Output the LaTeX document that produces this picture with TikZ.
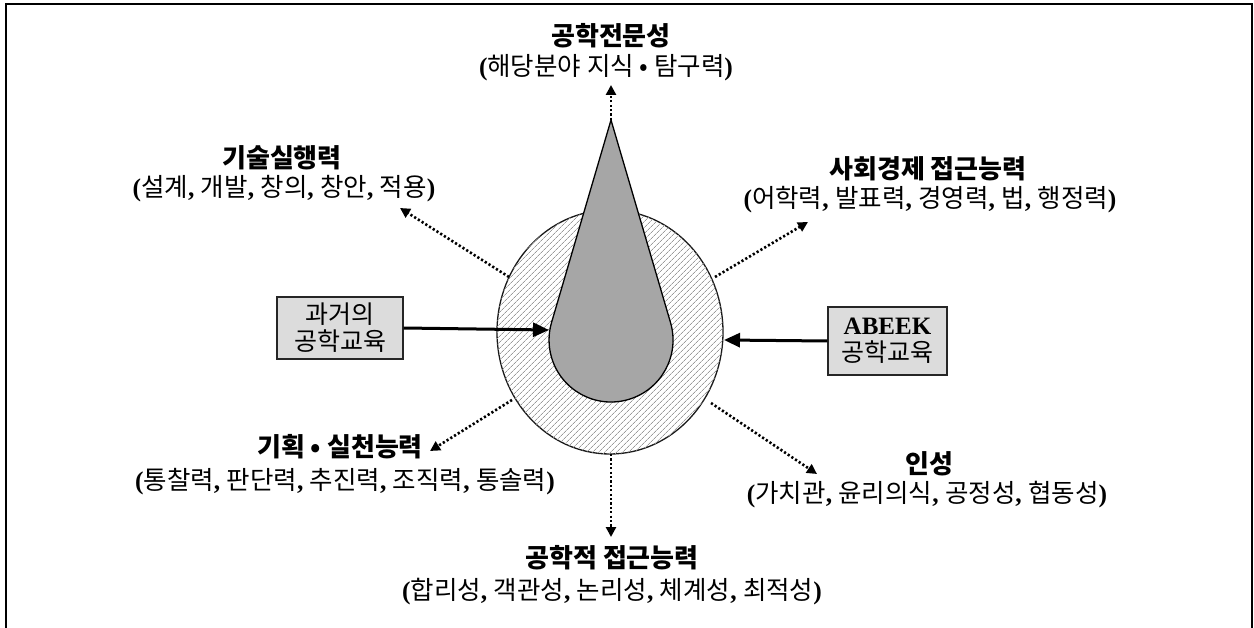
\documentclass[tikz,border=0pt]{standalone}
\usepackage{fontspec}
\setmainfont{Liberation Serif}
\newfontfamily\kr{Noto Sans CJK KR}
\usetikzlibrary{arrows.meta,patterns.meta,shapes.geometric}
\definecolor{dropgray}{HTML}{A6A6A6}
\definecolor{boxgray}{HTML}{DCDCDC}
\definecolor{hatchgray}{HTML}{9A9A9A}
\newcommand\lp{{\rmfamily\bfseries(}}
\newcommand\rp{{\rmfamily\bfseries)}}
\newcommand\cm{{\rmfamily\bfseries,\ }}
\tikzset{
  ttl/.style={font=\kr\bfseries\fontsize{26}{30}\selectfont, inner sep=0pt},
  subt/.style={font=\kr\fontsize{25.5}{30}\selectfont, inner sep=0pt},
  gbox/.style={draw=black!85, line width=1.3pt, fill=boxgray, inner sep=0pt,
    align=center, font=\kr\fontsize{25}{27}\selectfont},
  solidarrow/.style={line width=3pt, -{Triangle[length=16pt,width=14pt]}},
  dotarrow/.style={line width=2.6pt, dash pattern=on 2.2pt off 2.2pt,
    -{Triangle[length=10pt,width=10pt]}},
}
\begin{document}
\begin{tikzpicture}[x=1pt,y=-1pt]
\useasboundingbox (0,0) rectangle (1254,628);
% frame (open at bottom)
\draw[line width=2pt] (6,628) -- (6,4) -- (1252,4) -- (1252,628);

% hatched ring
\node[draw=black!90, line width=1.3pt, ellipse, minimum width=226pt, minimum height=244pt,
  inner sep=0pt, fill=white, postaction={pattern={Lines[angle=45,distance=4pt,line width=0.8pt]}, pattern color=hatchgray}]
  (ring) at (610,332) {};
% drop
\draw[fill=dropgray, line width=1.3pt] (611,120) coordinate (tip) -- (670.5,322.5)
  arc[start angle=-16.4, end angle=196.4, radius=62] -- cycle;

% boxes
\node[gbox, minimum width=126pt, minimum height=62pt] (lbox) at (340,328)
  {과거의\\공학교육};
\node[gbox, minimum width=119pt, minimum height=68pt] (rbox) at (887.5,341)
  {{\rmfamily\bfseries ABEEK}\\공학교육};

\coordinate (lt) at (549,330);
\coordinate (rt) at (724,340);
\draw[solidarrow] (lbox.east) -- (lt);
\draw[solidarrow] (rbox.west) -- (rt);

% labels
\node[ttl] (t1) at (611,36) {공학전문성};
\node[subt] (s1) at (606,68) {\lp 해당분야 지식 • 탐구력\rp};
\node[ttl] (t2) at (282,158) {기술실행력};
\node[subt] (s2) at (284,189) {\lp 설계\cm 개발\cm 창의\cm 창안\cm 적용\rp};
\node[ttl] (t3) at (928,169) {사회경제 접근능력};
\node[subt] (s3) at (930,200) {\lp 어학력\cm 발표력\cm 경영력\cm 법\cm 행정력\rp};
\node[ttl] (t4) at (340,447) {기획 • 실천능력};
\node[subt] (s4) at (345,482) {\lp 통찰력\cm 판단력\cm 추진력\cm 조직력\cm 통솔력\rp};
\node[ttl] (t5) at (929,464) {인성};
\node[subt] (s5) at (927,495) {\lp 가치관\cm 윤리의식\cm 공정성\cm 협동성\rp};
\node[ttl] (t6) at (612,558) {공학적 접근능력};
\node[subt] (s6) at (612,592) {\lp 합리성\cm 객관성\cm 논리성\cm 체계성\cm 최적성\rp};

% dotted arrows
\coordinate (eT) at (611,85);
\coordinate (sUL) at (509,277); \coordinate (eUL) at (400,208);
\coordinate (sUR) at (715,277); \coordinate (eUR) at (808,222);
\coordinate (sLL) at (512,400); \coordinate (eLL) at (430,451);
\coordinate (sLR) at (711,403); \coordinate (eLR) at (817,474);
\coordinate (sB) at (611,454);  \coordinate (eB) at (611,537);
\draw[dotarrow] (tip) -- (eT);
\draw[dotarrow] (sUL) -- (eUL);
\draw[dotarrow] (sUR) -- (eUR);
\draw[dotarrow] (sLL) -- (eLL);
\draw[dotarrow] (sLR) -- (eLR);
\draw[dotarrow] (sB) -- (eB);
\end{tikzpicture}
\end{document}
